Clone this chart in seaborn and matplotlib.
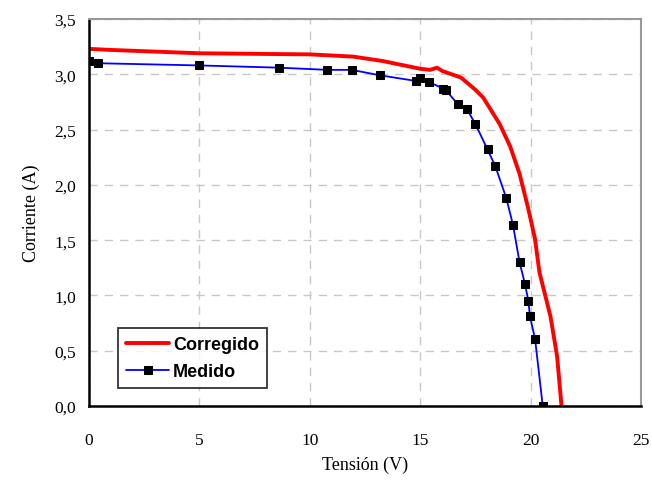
import matplotlib
matplotlib.use("Agg")
import matplotlib.pyplot as plt
import seaborn as sns
import pandas as pd
from matplotlib.ticker import FuncFormatter, MultipleLocator

# Data
medido_v = [0.0, 0.4, 5.0, 8.6, 10.8, 11.9, 13.2, 14.8, 15.0, 15.4, 16.05, 16.15,
            16.7, 17.1, 17.5, 18.05, 18.4, 18.9, 19.2, 19.5, 19.75, 19.9, 19.97, 20.2, 20.55]
medido_i = [3.12, 3.10, 3.08, 3.06, 3.04, 3.04, 2.99, 2.94, 2.97, 2.93, 2.87, 2.86,
            2.73, 2.69, 2.55, 2.32, 2.17, 1.88, 1.64, 1.30, 1.10, 0.95, 0.81, 0.61, 0.0]
corr_v = [0.0, 1.0, 5.0, 10.0, 11.96, 13.3, 15.0, 15.45, 15.76, 16.0, 16.85, 17.5,
          17.85, 18.6, 19.07, 19.5, 19.9, 20.2, 20.4, 20.9, 21.2, 21.4]
corr_i = [3.23, 3.22, 3.19, 3.18, 3.16, 3.12, 3.05, 3.04, 3.06, 3.03, 2.97, 2.86,
          2.79, 2.55, 2.35, 2.10, 1.78, 1.51, 1.21, 0.81, 0.45, 0.0]

df_m = pd.DataFrame({"V": medido_v, "I": medido_i})
df_c = pd.DataFrame({"V": corr_v, "I": corr_i})

sns.set_style("whitegrid")
plt.rcParams['font.family'] = ['Liberation Serif', 'DejaVu Serif']
plt.rcParams['text.color'] = 'black'
plt.rcParams['axes.labelcolor'] = 'black'

fig = plt.figure(figsize=(6.52, 4.81), dpi=100)
ax = fig.add_axes([89/652, 1-407/481, (641-89)/652, (407-20)/481])

sns.lineplot(data=df_c, x="V", y="I", ax=ax, color="#ff0000", linewidth=2.8,
             sort=False, estimator=None, label="Corregido")
sns.lineplot(data=df_m, x="V", y="I", ax=ax, color="#0000ff", linewidth=1.3,
             sort=False, estimator=None, marker="s", markersize=5.8,
             markerfacecolor="black", markeredgecolor="black", label="Medido")

ax.set_xlim(0, 25)
ax.set_ylim(0, 3.5)
ax.xaxis.set_major_locator(MultipleLocator(5))
ax.yaxis.set_major_locator(MultipleLocator(0.5))
ax.yaxis.set_major_formatter(FuncFormatter(lambda v, p: f"{v:.1f}".replace(".", ",")))
ax.grid(True, color="#c8c8c8", linestyle=(0, (6, 5)), linewidth=1.0)

for s in ["top", "right"]:
    ax.spines[s].set_color("#999999")
    ax.spines[s].set_linewidth(1.5)
for s in ["left", "bottom"]:
    ax.spines[s].set_color("black")
    ax.spines[s].set_linewidth(1.8)

ax.tick_params(axis="both", direction="inout", length=7, width=1.3, color="black",
               labelsize=12.5, labelcolor="black")
ax.tick_params(axis="x", pad=15)
ax.tick_params(axis="y", pad=6)

ax.set_xlabel("Tensión (V)", fontsize=13, labelpad=6)
ax.set_ylabel("Corriente (A)", fontsize=13, labelpad=10)

leg = ax.legend(loc="lower left", bbox_to_anchor=((118-89)/552, (407-389)/387),
                frameon=True, fancybox=False, edgecolor="black",
                prop={"family": "Liberation Sans", "size": 13, "weight": "bold"},
                handlelength=2.4, borderpad=0.45, labelspacing=0.55, handletextpad=0.2,
                borderaxespad=0.0)
leg.get_frame().set_linewidth(1.3)

fig.savefig("out.png", dpi=100)
